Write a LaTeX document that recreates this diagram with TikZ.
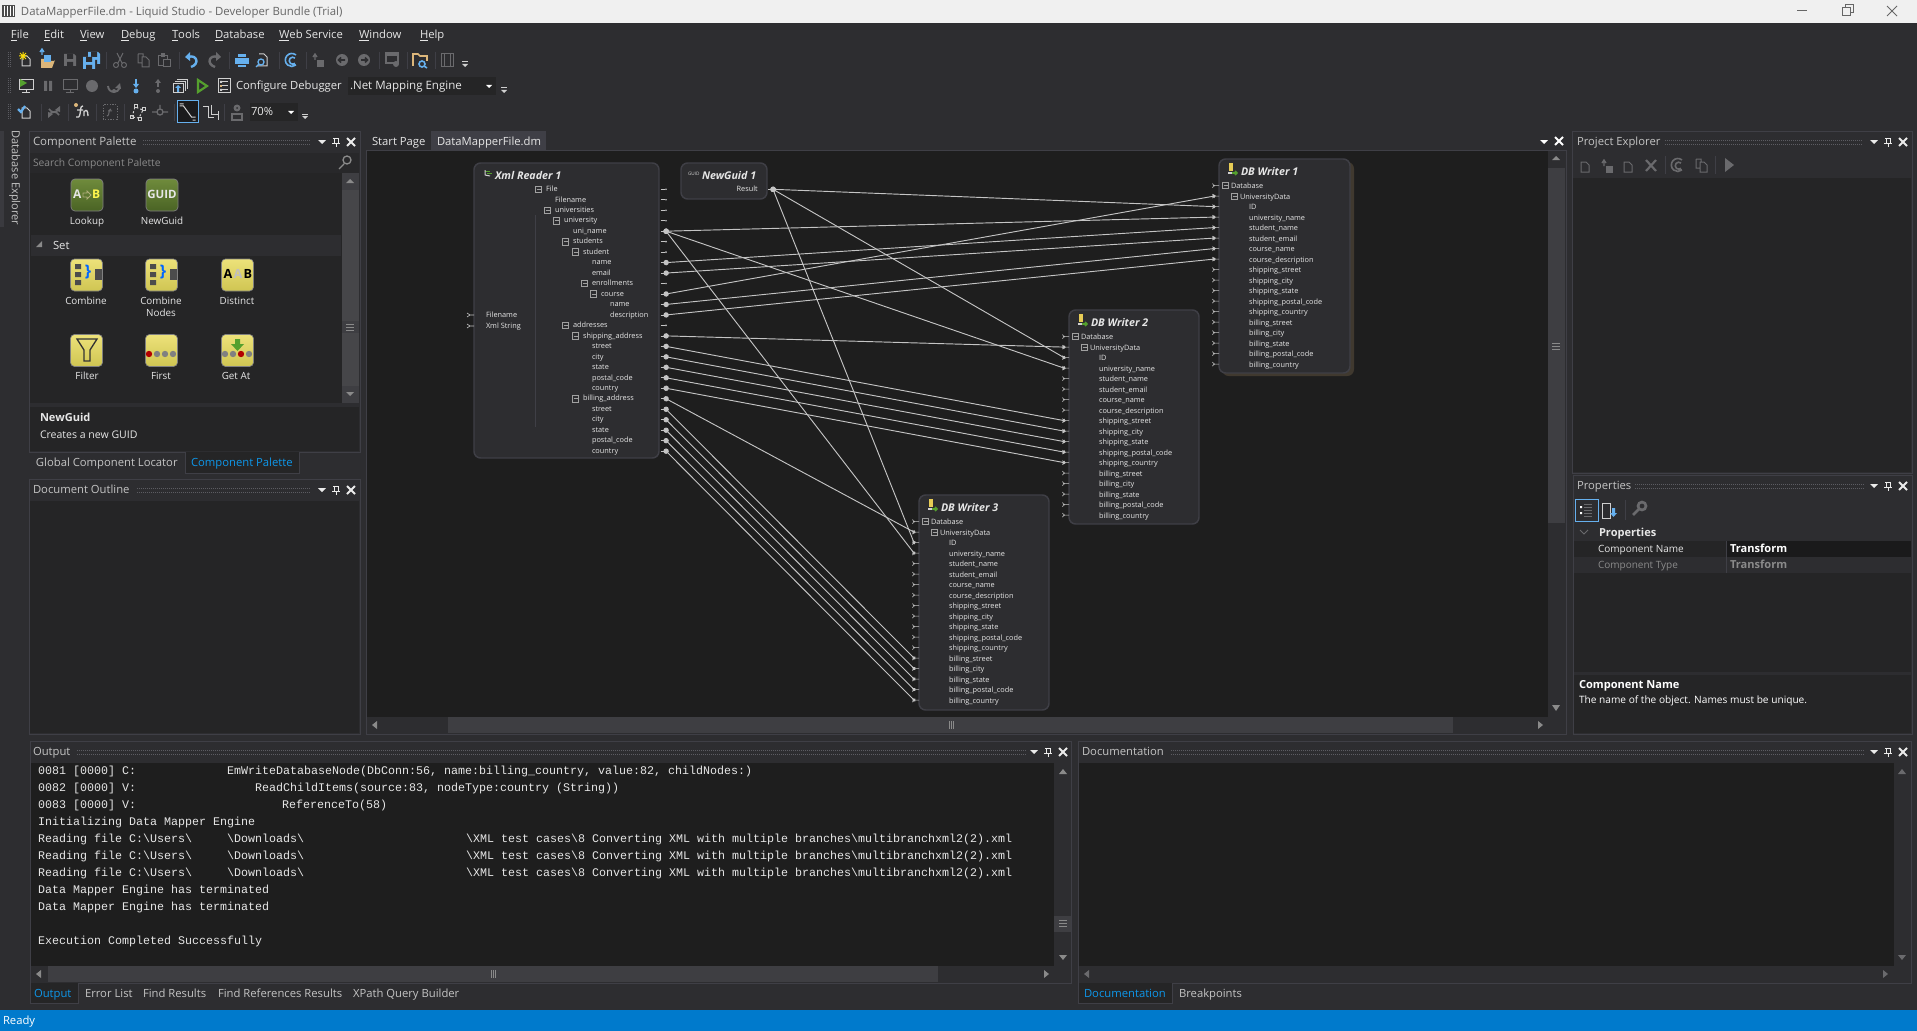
\documentclass[tikz,border=0pt]{standalone}
\usepackage{fontspec}
\setmainfont{Open Sans}
\newfontfamily\logfont{Liberation Mono}
\usetikzlibrary{arrows.meta}
\definecolor{chrome}{HTML}{2D2D30}
\definecolor{wellbg}{HTML}{252526}
\definecolor{canvasbg}{HTML}{1E1E1E}
\definecolor{edge}{HTML}{3F3F46}
\definecolor{scrollbg}{HTML}{3E3E42}
\definecolor{uilite}{HTML}{E6E6E6}
\definecolor{uidim}{HTML}{8A8A8A}
\definecolor{uiblue}{HTML}{0E97EA}
\definecolor{statusblue}{HTML}{007ACC}
\definecolor{wirecol}{HTML}{C4C4C4}
\definecolor{dimicon}{HTML}{6A6A6D}
\definecolor{liteicon}{HTML}{D0D0D0}
\definecolor{blueicon}{HTML}{66B0EE}
\definecolor{foldericon}{HTML}{DCB67A}
\definecolor{greenicon}{HTML}{55A02E}
\definecolor{tilegreentop}{HTML}{6F8B3C}
\definecolor{tilegreenlow}{HTML}{4A6324}
\definecolor{tileyellowtop}{HTML}{EDE27A}
\definecolor{tileyellowlow}{HTML}{CFC552}
\newcommand{\bksl}{\textbackslash}
\tikzset{
	uitext/.style={anchor=west,inner sep=0pt,outer sep=0pt,text=uilite,font=\fontsize{8.45}{10}\selectfont,text height=6.6pt,text depth=1.9pt},
	midtext/.style={uitext,anchor=center,align=center,font=\fontsize{7.4}{9}\selectfont},
	smalltext/.style={uitext,font=\fontsize{7.6}{9}\selectfont},
	logtext/.style={uitext,text=uilite,font=\logfont\fontsize{8.75}{10}\selectfont},
	maptext/.style={uitext,text=uilite,font=\fontsize{5.5}{7}\selectfont,text height=4.8pt,text depth=1.4pt},
	boxtitle/.style={uitext,text=uilite,font=\bfseries\itshape\fontsize{8}{9}\selectfont},
	mapbox/.style={draw=edge,line width=1.1pt,fill=chrome,rounded corners=5pt},
	portnode/.style={circle,fill=wirecol,inner sep=0pt,outer sep=0pt,minimum size=1.4pt},
	portline/.style={draw=wirecol,line width=.5pt},
	wire/.style={draw=wirecol,line width=.7pt,{Circle[length=4pt,fill=wirecol]}-{Circle[length=2.6pt,fill=wirecol]},shorten <=-2.6pt,shorten >=-1.9pt},
	griprow/.style={draw=#1,line width=.75pt,dash pattern=on .75pt off .75pt},
	griprow/.default={edge!85!white},
	panelframe/.style={draw=edge,line width=.75pt,fill=chrome},
	wellfill/.style={fill=wellbg},
	barfill/.style={fill=scrollbg},
	dimicon/.style={color=dimicon},
	liteicon/.style={color=liteicon},
	blueicon/.style={color=blueicon},
	foldericon/.style={color=foldericon},
	pics/panelbtns/.style={code={
		\fill[white!92!black] (-4,-2) -- (4,-2) -- (0,2) -- cycle;
		\draw[white!92!black,line width=.75pt] (11,-4) -- (17,-4) (12,-4) rectangle (16,1) (10,1) -- (18,1) (14,1) -- (14,5);
		\draw[white!92!black,line width=1.5pt] (25,-4) -- (33,4) (33,-4) -- (25,4);
	}},
	pics/icondoc/.style={code={\draw[line width=.75pt] (-4,-4) -- (1,-4) -- (4,-1) -- (4,6) -- (-4,6) -- cycle;}},
	pics/iconstar/.style={code={\draw[line width=.75pt,yellow!80!orange] (-6,-7) -- (0,-1) (0,-7) -- (-6,-1) (-3,-8) -- (-3,0) (-7,-4) -- (1,-4);}},
	pics/iconfolder/.style={code={\fill (-7,-2) -- (-3,-2) -- (-2,0) -- (6,0) -- (7,-1) -- (4,7) -- (-7,7) -- cycle;}},
	pics/iconsave/.style={code={\fill (-6,-6) -- (4,-6) -- (6,-4) -- (6,6) -- (-6,6) -- cycle;\fill[chrome] (-3,-6) rectangle (3,-1) (-3,2) rectangle (3,6);}},
	pics/iconcut/.style={code={\draw[line width=.75pt] (-4,5) circle (2.5) (4,5) circle (2.5) (-2,3) -- (3,-7) (2,3) -- (-3,-7);}},
	pics/iconcopy/.style={code={\draw[line width=.75pt] (-5,-6) -- (0,-6) -- (0,-3) (-5,-6) -- (-5,3) -- (-1,3) (-1,-3) -- (3,-3) -- (6,0) -- (6,7) -- (-1,7) -- cycle;}},
	pics/iconpaste/.style={code={\draw[line width=.75pt] (-6,-4) -- (-6,6) -- (-1,6) (-1,0) rectangle (6,7) (3,0) -- (3,-4) -- (-6,-4);\fill (-3,-7) rectangle (1,-3);}},
	pics/iconundo/.style={code={\draw[line width=1.8pt] (-4,-3) .. controls (5,-6) and (8,4) .. (-1,7);\fill (-7,-3) -- (-2,-8) -- (-2,1) -- cycle;}},
	pics/iconprint/.style={code={\fill (-7,-2) rectangle (7,4);\fill (-4,-6) rectangle (4,-3);\fill (-4,5) rectangle (4,7);}},
	pics/iconmag/.style={code={\draw[line width=.75pt] (-3,-6) -- (2,-6) -- (5,-3) -- (5,6) -- (-5,6);\draw[blueicon,line width=1pt] (-1,2) circle (3) (-3,4) -- (-6,7);}},
	pics/iconswirl/.style={code={\draw[line width=1.2pt] (4,-5) arc (-50:-310:6.5) (3,-2) arc (-50:-310:3.5);}},
	pics/iconstep/.style={code={\draw[line width=1pt] (-4,0) -- (-4,-5) (-6,-3) -- (-4,-6) -- (-2,-3);\fill (-2,0) rectangle (5,7);}},
	pics/iconback/.style={code={\fill (0,0) circle (6);\draw[chrome,line width=1.2pt] (3,0) -- (-3,0) (-1,-2.5) -- (-3.5,0) -- (-1,2.5);}},
	pics/iconforth/.style={code={\fill (0,0) circle (6);\draw[chrome,line width=1.2pt] (-3,0) -- (3,0) (1,-2.5) -- (3.5,0) -- (1,2.5);}},
	pics/iconwin/.style={code={\draw[line width=1pt] (-6,-6) rectangle (6,4);\fill (-6,-6) rectangle (6,-3);\fill (4,5) circle (3);}},
	pics/iconfolderfind/.style={code={\draw[foldericon,line width=1.2pt] (-7,6) -- (-7,-6) -- (-2,-6) -- (0,-4) -- (7,-4) -- (7,1);\draw[blueicon,line width=1.2pt] (2,4) circle (3) (4,6) -- (7,8);}},
	pics/iconpanel/.style={code={\draw[line width=.75pt] (-6,-6) rectangle (6,7) (-3,-6) -- (-3,7) (3,-6) -- (3,7);}},
	pics/iconover/.style={code={\draw[liteicon,line width=.75pt] (-3,-2) -- (3,-2);\fill[liteicon] (-3,0) -- (3,0) -- (0,3) -- cycle;}},
	pics/iconmon/.style={code={\draw[line width=.75pt] (-7,-6) rectangle (7,4) (0,4) -- (0,7) (-4,7) -- (4,7);}},
	pics/iconpause/.style={code={\fill (-4,-5) rectangle (-1,5) (1,-5) rectangle (4,5);}},
	pics/icondot/.style={code={\fill (0,0) circle (6);}},
	pics/iconover2/.style={code={\draw[line width=1.4pt] (-6,0) arc (180:20:6);\fill (6,-3) -- (7,3) -- (1,2) -- cycle;\fill (0,5) circle (2);}},
	pics/icondown/.style={code={\draw[line width=1.4pt] (0,-7) -- (0,-1);\fill (-3,-2) -- (3,-2) -- (0,2) -- cycle;\fill (0,5) circle (2.5);}},
	pics/iconup/.style={code={\draw[line width=1.4pt] (0,1) -- (0,-4);\fill (-3,-3) -- (3,-3) -- (0,-7) -- cycle;\fill (0,5) circle (2);}},
	pics/iconstack/.style={code={\draw[liteicon,line width=.75pt] (-3,-6) -- (7,-6) -- (7,3) (-5,-4) -- (5,-4) -- (5,5);\draw[liteicon,line width=.75pt] (-7,-2) rectangle (3,7);\fill[blueicon] (-5,2) -- (-2,-1) -- (1,2) -- (-1,2) -- (-1,6) -- (-3,6) -- (-3,2) -- cycle;}},
	pics/iconlist/.style={code={\draw[liteicon,line width=.75pt] (-6,-7) rectangle (6,7) (-2,-4) -- (4,-4) (-2,0) -- (4,0) (-2,4) -- (4,4);\fill[foldericon] (-4,-1) rectangle (-2,1);\fill[liteicon] (-4,-5) rectangle (-2,-3) (-4,3) rectangle (-2,5);}},
	pics/iconcycle/.style={code={\draw[line width=1.2pt] (5,-3) arc (30:150:5.8) (-5,3) arc (210:330:5.8);\fill (6,-6) -- (6,0) -- (1,-2) -- cycle (-6,6) -- (-6,0) -- (-1,2) -- cycle;}},
	pics/iconcheck/.style={code={\draw[blueicon,line width=1.6pt] (-8,-3) -- (-5,0) -- (-1,-6);}},
	pics/iconfn/.style={code={\draw[liteicon,line width=1pt] (2,-6) .. controls (-1,-6) and (0,-2) .. (-1,2) .. controls (-1.5,5) and (-3,6) .. (-5,5) (-4,-2) -- (2,-2) (3,-1) -- (3,4) (3,0) .. controls (5,-3) and (7,-2) .. (7,4);\fill[foldericon] (-5,-7) circle (2);}},
	pics/iconfnbox/.style={code={\draw[line width=.75pt,dash pattern=on 1pt off 1pt] (-7,-7) rectangle (7,7);\draw[line width=.75pt] (1,-3) .. controls (-2,-3) and (0,4) .. (-3,4) (-2,-1) -- (2,-1);}},
	pics/iconnodes/.style={code={\draw[line width=.75pt,dash pattern=on 1.5pt off 1.5pt] (-5,5) -- (-2,-5) -- (6,-2) -- (2,6) -- cycle;\draw[line width=.75pt] (-7,3) rectangle (-4,6) (-3,-7) rectangle (0,-4) (5,-4) rectangle (8,-1) (1,5) rectangle (4,8);}},
	pics/iconcross/.style={code={\draw[line width=1pt] (0,0) circle (3) (-8,0) -- (-3,0) (3,0) -- (8,0) (0,-7) -- (0,-3);}},
	pics/iconline/.style={code={\draw[liteicon,line width=.75pt] (-8,-6) -- (-4,-6) -- (4,5) -- (8,5) (-4,-8) -- (-8,-8) (8,8) -- (5,8);}},
	pics/iconortho/.style={code={\draw[liteicon,line width=.75pt] (-7,-5) -- (-2,-5) -- (-2,5) -- (4,5) (1,-7) -- (1,2) -- (8,2) (8,-1) -- (8,8);}},
	pics/iconchain/.style={code={\fill (0,-4) circle (3.5);\draw[line width=1pt] (-5,2) rectangle (5,8);\fill[chrome] (0,-4) circle (1);}},
	pics/iconkey/.style={code={\draw[line width=2pt] (3,-3) circle (4) (0,0) -- (-6,6);}},
	pics/iconaz/.style={code={\draw[liteicon,line width=.75pt] (-7,-7) rectangle (1,8);\fill[blueicon] (3,-2) rectangle (6,3) (1,3) -- (8,3) -- (4.5,7) -- cycle;}},
	pics/iconlines/.style={code={\draw[dimicon,line width=.75pt] (-3,-6) -- (5,-6) (-3,-3) -- (5,-3) (-3,0) -- (5,0) (-3,3) -- (5,3) (-3,6) -- (5,6);\fill[white] (-7,-4) rectangle (-5,-2) (-7,2) rectangle (-5,4);}},
	pics/icondb/.style={code={\fill[foldericon!70!yellow] (-3,-6) rectangle (1,2);\draw[greenicon,line width=1.2pt] (-2,4) -- (5,4) (3,2) -- (5,4) -- (3,6);\fill[liteicon] (-4,3) rectangle (0,5);}},
	pics/iconxml/.style={code={\draw[greenicon,line width=.75pt] (-3,-3) -- (2,-3) (-1,-1) -- (4,-1);\draw[liteicon,line width=.75pt] (-3,1) -- (2,2) (-3,-4) -- (-3,1);}},
	pics/tilegreen/.style={code={\shade[top color=tilegreentop,bottom color=tilegreenlow,draw=gray,rounded corners=3pt,line width=.5pt] (-16,-16) rectangle (16,16);}},
	pics/tileyellow/.style={code={\shade[top color=tileyellowtop,bottom color=tileyellowlow,draw=gray,rounded corners=3pt,line width=.5pt] (-16,-16) rectangle (16,16);}},
}
\begin{document}
\begin{tikzpicture}[x=.75pt,y=-.75pt,line width=.75pt]
	\useasboundingbox (0,0) rectangle (1917,1031);
	\fill[chrome] (0,0) rectangle (1917,1031);
	\fill[black!6] (0,0) rectangle (1917,23);
	\fill[statusblue] (0,1010) rectangle (1917,1031);
	\fill[black!40!gray] (2,5) rectangle (15,17);
	\draw[white,line width=.5pt] (4,6) -- (4,16) (7,6) -- (7,16) (10,6) -- (10,16) (13,6) -- (13,16);
	\node[uitext,text=black!60,font=\fontsize{8.55}{10}\selectfont] (apptitle) at (21,12) {DataMapperFile.dm - Liquid Studio - Developer Bundle (Trial)};
	\draw[black!60] (1797,11) -- (1807,11) (1842,8) rectangle (1850,16) (1845,8) -- (1845,5) -- (1853,5) -- (1853,13) -- (1850,13);
	\draw[black!60] (1887,6) -- (1897,16) (1897,6) -- (1887,16);
	\node[uitext,text=white] (statustext) at (3,1021) {Ready};

	\foreach \mname/\mx [count=\n] in {\underline{F}ile/11,\underline{E}dit/44,\underline{V}iew/80,\underline{D}ebug/121,\underline{T}ools/172,\underline{D}atabase/215,\underline{W}eb Service/279,\underline{W}indow/359,\underline{H}elp/420}{
		\node[uitext] (menu\n) at (\mx,35) {\mname};
	}

	% toolbars
	\foreach \gy in {52,78,104}{
		\draw[griprow] (8,\gy) -- (8,\gy+16) (10,\gy) -- (10,\gy+16);
	}
	\foreach \sx in {106,179,229,279,306,379,407,435}{
		\draw[edge] (\sx,52) -- (\sx,69);
	}
	\foreach \sx in {41,68,96,124,174,224}{
		\draw[edge] (\sx,104) -- (\sx,121);
	}
	\pic[liteicon] at (26,60) {icondoc};
	\pic at (26,60) {iconstar};
	\pic[foldericon] at (48,61) {iconfolder};
	\pic[blueicon] at (46,55) {iconstep};
	\pic[dimicon] at (70,60) {iconsave};
	\pic[blueicon] at (94,58) {iconsave};
	\pic[blueicon] at (89,63) {iconsave};
	\pic[dimicon] at (120,60) {iconcut};
	\pic[dimicon] at (143,60) {iconcopy};
	\pic[dimicon] at (164,60) {iconpaste};
	\pic[blueicon] at (192,60) {iconundo};
	\pic[dimicon,xscale=-1] at (214,60) {iconundo};
	\pic[blueicon] at (242,60) {iconprint};
	\pic[liteicon] at (262,60) {iconmag};
	\pic[blueicon] at (292,60) {iconswirl};
	\pic[dimicon] at (319,60) {iconstep};
	\pic[dimicon] at (342,60) {iconback};
	\pic[dimicon] at (364,60) {iconforth};
	\pic[dimicon] at (392,59) {iconwin};
	\pic at (420,60) {iconfolderfind};
	\pic[dimicon] at (447,60) {iconpanel};
	\pic at (465,64) {iconover};

	\pic[liteicon] at (26,86) {iconmon};
	\fill[greenicon] (20,79) -- (27,83) -- (20,87) -- cycle;
	\pic[dimicon] at (48,86) {iconpause};
	\pic[dimicon] at (70,86) {iconmon};
	\pic[dimicon] at (92,86) {icondot};
	\pic[dimicon] at (114,86) {iconover2};
	\pic[blueicon] at (136,86) {icondown};
	\pic[dimicon] at (158,86) {iconup};
	\pic at (180,86) {iconstack};
	\draw[greenicon,line width=1.6pt] (198,80) -- (207,86) -- (198,92) -- cycle;
	\pic at (224,86) {iconlist};
	\node[uitext] (debugcfg) at (236,86) {Configure Debugger};
	\fill[wellbg] (348,77) rectangle (496,95);
	\node[uitext,font=\fontsize{8.65}{10}\selectfont] (engine) at (350,86) {.Net Mapping Engine};
	\fill[white] (486,85) -- (492,85) -- (489,88) -- cycle;
	\pic at (504,90) {iconover};

	\pic[liteicon] at (26,112) {icondoc};
	\pic at (26,112) {iconcheck};
	\pic[dimicon] at (54,112) {iconcycle};
	\pic at (81,112) {iconfn};
	\pic[dimicon] at (110,112) {iconfnbox};
	\pic[liteicon] at (137,112) {iconnodes};
	\pic[dimicon] at (160,112) {iconcross};
	\draw[blueicon,fill=black!40!chrome] (177.5,101) rectangle (198.5,122);
	\pic at (187.5,112) {iconline};
	\pic at (210,112) {iconortho};
	\pic[dimicon] at (237,112) {iconchain};
	\fill[wellbg] (250,103) rectangle (298,121);
	\node[uitext] (zoomval) at (251,112) {70\%};
	\fill[white] (288,111) -- (294,111) -- (291,114) -- cycle;
	\pic at (305,116) {iconover};

	% left panels
	\fill[edge!70!chrome] (0,131) rectangle (4,227);
	\node[uitext,anchor=center,rotate=-90,text=uilite!85!black,font=\fontsize{8.3}{10}\selectfont] (dbexplorer) at (15,178) {Database Explorer};
	\draw[panelframe] (29,131) rectangle (360,452);
	\fill[wellfill] (30,173) rectangle (342,403);
	\fill[wellbg!60!chrome] (30,153) rectangle (359,173);
	\fill[wellbg] (30,407) rectangle (359,451);
	\fill[chrome] (31,235) rectangle (341,256);
	\node[uitext,text=uilite!85!black,font=\fontsize{8.6}{10}\selectfont] (palettehead) at (33,142) {Component Palette};
	\draw[griprow] (143,140) -- (311,140) (143,144) -- (311,144);
	\pic at (322,142) {panelbtns};
	\node[smalltext,text=uidim,font=\fontsize{7.7}{9}\selectfont] (palettesearch) at (33,163) {Search Component Palette};
	\draw[uidim,line width=1pt] (347,160) circle (4) (344,164) -- (339,169);
	\fill[chrome!88!white] (342,173) rectangle (359,403);
	\fill[barfill] (342,173) rectangle (359,190);
	\fill[barfill] (342,386) rectangle (359,403);
	\fill[barfill] (342,321) rectangle (359,333);
	\fill[uidim] (346,183) -- (354,183) -- (350,179) -- cycle;
	\fill[uidim] (346,392) -- (354,392) -- (350,396) -- cycle;
	\draw[uidim] (346,324) -- (354,324) (346,327) -- (354,327) (346,330) -- (354,330);
	\fill[uidim] (36,247) -- (42,247) -- (42,241) -- cycle;
	\node[uitext] (setgroup) at (53,246) {Set};

	\pic at (87,195) {tilegreen};
	\pic at (162,195) {tilegreen};
	\node[uitext,font=\bfseries\fontsize{9}{10}\selectfont] (tilea) at (73,195) {A};
	\node[uitext,font=\bfseries\fontsize{9}{10}\selectfont,text=yellow!70!white] (tileb) at (92,195) {B};
	\draw[yellow!30!gray,line width=.6pt] (83,193) -- (87,193) -- (87,191) -- (91,195) -- (87,199) -- (87,197) -- (83,197) -- cycle;
	\node[midtext,font=\bfseries\fontsize{8.6}{10}\selectfont] (tileguid) at (162,195) {GUID};
	\pic at (86.5,275) {tileyellow};
	\pic at (161.5,275) {tileyellow};
	\pic at (237.5,275) {tileyellow};
	\pic at (86.5,350.5) {tileyellow};
	\pic at (161.5,350.5) {tileyellow};
	\pic at (237.5,350.5) {tileyellow};
	\foreach \bx/\bn in {75/c,150/n}{
		\fill[black!70] (\bx,264) rectangle (\bx+6,269) (\bx,272) rectangle (\bx+6,277) (\bx,280) rectangle (\bx+6,285);
		\fill[black!70] (\bx+20,269) rectangle (\bx+27,280);
		\node[midtext,font=\bfseries\fontsize{12}{12}\selectfont,text=blue!60!cyan] (brace\bn) at (\bx+13,273) {\}};
	}
	\node[midtext,font=\bfseries\fontsize{9.5}{10}\selectfont,text=black] (dista) at (228,275) {A};
	\node[midtext,font=\bfseries\fontsize{9.5}{10}\selectfont,text=gray!50] (distb) at (238,275) {A};
	\node[midtext,font=\bfseries\fontsize{9.5}{10}\selectfont,text=black] (distc) at (248,275) {B};
	\draw[black!80,line width=1pt] (77,339) -- (97,339) -- (90,350) -- (90,361) -- (84,361) -- (84,350) -- cycle;
	\foreach \bx/\bc in {151/red!70!black,159/gray,167/gray,175/gray,227/gray,235/gray,243/red!70!black,251/gray}{
		\fill[\bc] (\bx-2,354) circle (3.2);
	}
	\fill[greenicon] (235,339) rectangle (240,344) (231,344) -- (244,344) -- (237.5,351) -- cycle;
	\foreach \tname/\tx/\ty/\tkey in {Lookup/87/221/a,NewGuid/162/221/b,Combine/86/301/c,Distinct/237/301/d,Filter/87/376/e,First/161/376/f,Get At/236/376/g}{
		\node[midtext] (tile\tkey) at (\tx,\ty) {\tname};
	}
	\node[midtext] (tilecn) at (161,301) {Combine};
	\node[midtext] (tilecm) at (161,313) {Nodes};
	\node[uitext,font=\bfseries\fontsize{8.3}{10}\selectfont] (guidhead) at (40,418) {NewGuid};
	\node[smalltext,font=\fontsize{7.9}{9}\selectfont] (guidtext) at (40,435) {Creates a new GUID};
	\draw[edge,fill=wellbg] (185,452) -- (185,473) -- (299,473) -- (299,452);
	\node[uitext,text=uilite!85!black] (globaltab) at (36,463) {Global Component Locator};
	\node[uitext,text=uiblue] (palettetab) at (191,463) {Component Palette};

	\draw[panelframe] (29,479) rectangle (360,734);
	\fill[wellfill] (30,501) rectangle (359,733);
	\node[uitext,text=uilite!85!black] (outlinehead) at (33,490) {Document Outline};
	\draw[griprow] (137,488) -- (311,488) (137,492) -- (311,492);
	\pic at (322,490) {panelbtns};

	% tab well and mapping canvas
	\node[uitext] (starttab) at (372,142) {Start Page};
	\fill[edge] (431,131) rectangle (546,151);
	\node[uitext] (maptab) at (437,142) {DataMapperFile.dm};
	\fill[white] (1540,140) -- (1548,140) -- (1544,144) -- cycle;
	\draw[white,line width=1.5pt] (1555,137) -- (1563,145) (1563,137) -- (1555,145);
	\draw[edge,fill=chrome] (366,150) rectangle (1566,734);
	\fill[canvasbg] (367,151) rectangle (1548,717);
	\fill[barfill] (1548,168) rectangle (1565,523);
	\fill[uidim] (1552,160) -- (1560,160) -- (1556,156) -- cycle;
	\fill[uidim] (1552,705) -- (1560,705) -- (1556,711) -- cycle;
	\draw[uidim] (1552,343) -- (1560,343) (1552,346) -- (1560,346) (1552,349) -- (1560,349);
	\fill[barfill] (448,717) rectangle (1453,733);
	\fill[uidim] (377,721) -- (377,729) -- (372,725) -- cycle;
	\fill[uidim] (1538,721) -- (1538,729) -- (1543,725) -- cycle;
	\draw[uidim] (949,721) -- (949,729) (951,721) -- (951,729) (953,721) -- (953,729);

	\draw[mapbox] (474,163) rectangle (659,458);
	\draw[edge] (535,215) -- (535,427);
	\pic at (488,174) {iconxml};
	\node[boxtitle] (xrtitle) at (495,176) {Xml Reader 1};
	\node[maptext] (xrfile) at (486,315) {Filename};
	\node[maptext] (xrstring) at (486,326) {Xml String};
	\foreach \pn/\py in {a/315,b/326}{
		\coordinate (xrin\pn) at (470,\py);
		\draw[portline] (467,\py-2) -- (xrin\pn) -- (467,\py+2) (xrin\pn) -- (474,\py);
	}
	\foreach \lx/\lab/\tog [count=\i from 0] in {
		546/File/1,555/Filename/0,555/universities/1,564/university/1,573/uni\_name/0,573/students/1,583/student/1,592/name/0,592/email/0,592/enrollments/1,601/course/1,610/name/0,610/description/0,
		573/addresses/1,583/shipping\_address/1,592/street/0,592/city/0,592/state/0,592/postal\_code/0,592/country/0,583/billing\_address/1,592/street/0,592/city/0,592/state/0,592/postal\_code/0,592/country/0}{
		\node[maptext] (xrl\i) at (\lx,{189.3+10.47*\i}) {\lab};
		\node[portnode] (xr-\i) at (666,{189.3+10.47*\i}) {};
		\draw[portline] (660.5,{189.3+10.47*\i}) -- (xr-\i);
		\ifnum\tog=1
			\draw[uilite!70!black,line width=.5pt] (\lx-10.5,{186+10.47*\i}) rectangle (\lx-4.5,{192.5+10.47*\i}) (\lx-9.5,{189.3+10.47*\i}) -- (\lx-5.5,{189.3+10.47*\i});
		\fi
	}

	\draw[mapbox] (681,163) rectangle (767,199);
	\node[maptext,font=\fontsize{3.5}{4}\selectfont,text=liteicon] (nguidicon) at (688,173) {GUID};
	\node[boxtitle] (ngtitle) at (702,176) {NewGuid 1};
	\node[maptext,anchor=east] (ngresult) at (757.7,189) {Result};
	\node[portnode] (ng-r) at (773,189.3) {};
	\draw[portline] (768,189.3) -- (ng-r);

	\fill[foldericon!18!canvasbg,rounded corners=5pt] (1222,162) rectangle (1354,376);
	\foreach \w/\wl/\wt/\wr/\wb in {1/1219/159/1350/373,2/1069/310/1199/524,3/919/495/1049/710}{
		\draw[mapbox] (\wl,\wt) rectangle (\wr,\wb);
		\pic at (\wl+13,\wt+10) {icondb};
		\node[boxtitle] (wt\w) at (\wl+22,\wt+13) {DB Writer \w};
		\foreach \lx/\lab/\tog [count=\i from 0] in {12/Database/1,21/UniversityData/1,30/ID/0,30/university\_name/0,30/student\_name/0,30/student\_email/0,30/course\_name/0,30/course\_description/0,30/shipping\_street/0,30/shipping\_city/0,30/shipping\_state/0,30/shipping\_postal\_code/0,30/shipping\_country/0,30/billing\_street/0,30/billing\_city/0,30/billing\_state/0,30/billing\_postal\_code/0,30/billing\_country/0}{
			\node[maptext] (wl\w-\i) at (\wl+\lx,{\wt+27.3+10.5*\i}) {\lab};
			\node[portnode] (w\w-\i) at (\wl-5,{\wt+26.6+10.5*\i}) {};
			\draw[portline] (\wl-6.5,{\wt+24.6+10.5*\i}) -- (w\w-\i) -- (\wl-6.5,{\wt+28.6+10.5*\i}) (w\w-\i) -- (\wl,{\wt+26.6+10.5*\i});
			\ifnum\tog=1
				\draw[uilite!70!black,line width=.5pt] (\wl+\lx-8.5,{\wt+23.4+10.5*\i}) rectangle (\wl+\lx-2.5,{\wt+29.8+10.5*\i}) (\wl+\lx-7.5,{\wt+26.6+10.5*\i}) -- (\wl+\lx-3.5,{\wt+26.6+10.5*\i});
			\fi
		}
	}

	\foreach \w in {1,2,3}{
		\draw[wire] (ng-r) -- (w\w-2);
		\draw[wire] (xr-4) -- (w\w-3);
	}
	\foreach \a/\b in {7/4,8/5,10/1,11/6,12/7}{
		\draw[wire] (xr-\a) -- (w1-\b);
	}
	\foreach \a/\b in {14/1,15/8,16/9,17/10,18/11,19/12}{
		\draw[wire] (xr-\a) -- (w2-\b);
	}
	\foreach \a/\b in {20/1,21/13,22/14,23/15,24/16,25/17}{
		\draw[wire] (xr-\a) -- (w3-\b);
	}

	% right panels
	\draw[panelframe] (1572,131) rectangle (1912,473);
	\fill[wellfill] (1573,178) rectangle (1911,472);
	\node[uitext,text=uilite!85!black] (projhead) at (1577,142) {Project Explorer};
	\draw[griprow] (1665,140) -- (1863,140) (1665,144) -- (1863,144);
	\pic at (1874,142) {panelbtns};
	\pic[dimicon] at (1585,166) {icondoc};
	\pic[dimicon] at (1608,166) {iconstep};
	\pic[dimicon] at (1628,166) {icondoc};
	\draw[dimicon,line width=1.6pt] (1646,160) -- (1656,171) (1656,160) -- (1646,171);
	\draw[edge] (1665,156) -- (1665,174) (1715,156) -- (1715,174);
	\pic[dimicon] at (1678,165) {iconswirl};
	\pic[dimicon] at (1701,165) {iconcopy};
	\fill[dimicon] (1725,158) -- (1734,165) -- (1725,172) -- cycle;

	\draw[panelframe] (1573,475) rectangle (1912,734);
	\fill[wellfill] (1574,523) rectangle (1911,733);
	\fill[chrome] (1574,523) rectangle (1911,541);
	\fill[wellbg!70!black] (1726,541) rectangle (1911,557);
	\fill[chrome] (1574,557) rectangle (1911,573);
	\fill[chrome] (1574,672) rectangle (1911,675);
	\draw[edge] (1726,541) -- (1726,573);
	\node[uitext,text=uilite!85!black] (prophead) at (1577,486) {Properties};
	\draw[griprow] (1635,484) -- (1864,484) (1635,488) -- (1864,488);
	\pic at (1874,486) {panelbtns};
	\draw[blueicon] (1575,499) rectangle (1598,521);
	\pic at (1587,510) {iconlines};
	\pic at (1609,510) {iconaz};
	\draw[edge] (1625,500) -- (1625,520);
	\pic[dimicon] at (1639,509) {iconkey};
	\draw[dimicon] (1580,530) -- (1584,534) -- (1588,530);
	\node[uitext,font=\bfseries\fontsize{8.3}{10}\selectfont] (propgroup) at (1599,533) {Properties};
	\node[smalltext,font=\fontsize{7.5}{9}\selectfont] (compname) at (1598,549) {Component Name};
	\node[uitext,font=\bfseries\fontsize{8.3}{10}\selectfont,text=white] (compnameval) at (1730,549) {Transform};
	\node[smalltext,text=uidim,font=\fontsize{7.5}{9}\selectfont] (comptype) at (1598,565) {Component Type};
	\node[uitext,font=\bfseries\fontsize{8.3}{10}\selectfont,text=uidim] (comptypeval) at (1730,565) {Transform};
	\node[uitext,font=\bfseries\fontsize{8.3}{10}\selectfont,text=white] (deschead) at (1579,685) {Component Name};
	\node[smalltext,text=white] (desctext) at (1579,700) {The name of the object. Names must be unique.};

	% output and documentation
	\draw[panelframe] (30,741) rectangle (1071,983);
	\fill[canvasbg] (31,763) rectangle (1054,966);
	\node[uitext,text=uilite!85!black] (outhead) at (33,752) {Output};
	\draw[griprow] (77,750) -- (1026,750) (77,754) -- (1026,754);
	\pic at (1034,752) {panelbtns};
	\foreach \tx/\ly/\lx [count=\n] in {
		{0081 [0000] C:}/771/38,{EmWriteDatabaseNode(DbConn:56, name:billing\_country, value:82, childNodes:)}/771/227,
		{0082 [0000] V:}/788/38,{ReadChildItems(source:83, nodeType:country (String))}/788/255,
		{0083 [0000] V:}/805/38,{ReferenceTo(58)}/805/282,
		{Initializing Data Mapper Engine}/822/38,
		{Reading file C:\bksl Users\bksl}/839/38,{\bksl Downloads\bksl}/839/227,{\bksl XML test cases\bksl 8 Converting XML with multiple branches\bksl multibranchxml2(2).xml}/839/466,
		{Reading file C:\bksl Users\bksl}/856/38,{\bksl Downloads\bksl}/856/227,{\bksl XML test cases\bksl 8 Converting XML with multiple branches\bksl multibranchxml2(2).xml}/856/466,
		{Reading file C:\bksl Users\bksl}/873/38,{\bksl Downloads\bksl}/873/227,{\bksl XML test cases\bksl 8 Converting XML with multiple branches\bksl multibranchxml2(2).xml}/873/466,
		{Data Mapper Engine has terminated}/890/38,{Data Mapper Engine has terminated}/907/38,{Execution Completed Successfully}/941/38}{
		\node[logtext] (log\n) at (\lx,\ly) {\tx};
	}
	\fill[barfill] (1054,916) rectangle (1071,932);
	\fill[uidim] (1059,774) -- (1067,774) -- (1063,769) -- cycle;
	\fill[uidim] (1059,955) -- (1067,955) -- (1063,960) -- cycle;
	\draw[uidim] (1059,920) -- (1067,920) (1059,923) -- (1067,923) (1059,926) -- (1067,926);
	\fill[barfill] (48,966) rectangle (938,982);
	\fill[uidim] (41,970) -- (41,978) -- (36,974) -- cycle;
	\fill[uidim] (1044,970) -- (1044,978) -- (1049,974) -- cycle;
	\draw[uidim] (491,970) -- (491,978) (493,970) -- (493,978) (495,970) -- (495,978);
	\draw[edge,fill=wellbg] (30,983) -- (30,1003) -- (78,1003) -- (78,983);
	\foreach \tname/\tx/\tkey in {Error List/85/a,Find Results/143/b,Find References Results/218/c,XPath Query Builder/353/d}{
		\node[uitext,text=uilite!85!black] (outtab\tkey) at (\tx,994) {\tname};
	}
	\node[uitext,text=uiblue] (outtabo) at (34,994) {Output};

	\draw[panelframe] (1078,741) rectangle (1911,983);
	\fill[canvasbg] (1079,763) rectangle (1894,966);
	\node[uitext,text=uilite!85!black] (dochead) at (1082,752) {Documentation};
	\draw[griprow] (1171,750) -- (1865,750) (1171,754) -- (1865,754);
	\pic at (1874,752) {panelbtns};
	\fill[dimicon] (1898,774) -- (1906,774) -- (1902,769) -- cycle;
	\fill[dimicon] (1898,955) -- (1906,955) -- (1902,960) -- cycle;
	\fill[dimicon] (1089,970) -- (1089,978) -- (1084,974) -- cycle;
	\fill[dimicon] (1883,970) -- (1883,978) -- (1888,974) -- cycle;
	\draw[edge,fill=wellbg] (1078,983) -- (1078,1003) -- (1172,1003) -- (1172,983);
	\node[uitext,text=uiblue] (doctab) at (1084,994) {Documentation};
	\node[uitext,text=uilite!85!black] (breaktab) at (1179,994) {Breakpoints};
\end{tikzpicture}
\end{document}
